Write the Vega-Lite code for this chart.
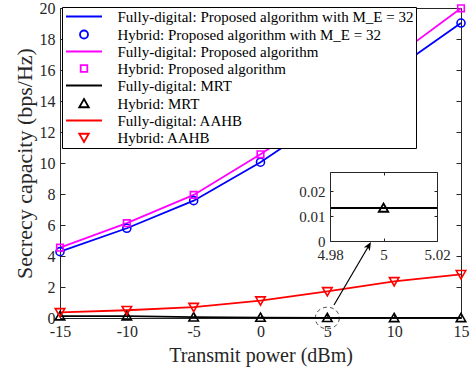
{
  "$schema": "https://vega.github.io/schema/vega-lite/v6.json",
  "width": 401,
  "height": 310,
  "autosize": "none",
  "padding": {"left": 60, "top": 8, "right": 11, "bottom": 55},
  "background": "white",
  "config": {
    "font": "Liberation Serif",
    "view": {"stroke": null},
    "axis": {
      "domainColor": "#262626", "tickColor": "#262626", "labelColor": "#262626", "titleColor": "#262626",
      "labelFont": "Liberation Serif", "titleFont": "Liberation Serif",
      "labelFontSize": 16, "titleFontSize": 20, "titleFontWeight": "normal",
      "grid": false, "tickSize": -5, "domainWidth": 1, "tickWidth": 1,
      "labelFlush": false, "labelOverlap": false
    },
    "legend": {
      "orient": "none", "legendX": 2, "legendY": -1,
      "padding": 2, "strokeColor": "black", "fillColor": "white",
      "symbolSize": 100, "symbolStrokeWidth": 1.8, "symbolOffset": 12.5, "labelOffset": 26,
      "labelFont": "Liberation Serif", "labelFontSize": 15, "labelColor": "black",
      "rowPadding": 1, "labelLimit": 400, "symbolFillColor": "transparent"
    }
  },
  "datasets": {
    "fd": [
      {"s": "Fully-digital: Proposed algorithm with M_E = 32", "p": -15, "c": 4.28},
      {"s": "Fully-digital: Proposed algorithm with M_E = 32", "p": -10, "c": 5.79},
      {"s": "Fully-digital: Proposed algorithm with M_E = 32", "p": -5, "c": 7.57},
      {"s": "Fully-digital: Proposed algorithm with M_E = 32", "p": 0, "c": 10.05},
      {"s": "Fully-digital: Proposed algorithm with M_E = 32", "p": 5, "c": 12.95},
      {"s": "Fully-digital: Proposed algorithm with M_E = 32", "p": 10, "c": 16.0},
      {"s": "Fully-digital: Proposed algorithm with M_E = 32", "p": 15, "c": 19.03},
      {"s": "Fully-digital: Proposed algorithm", "p": -15, "c": 4.54},
      {"s": "Fully-digital: Proposed algorithm", "p": -10, "c": 6.12},
      {"s": "Fully-digital: Proposed algorithm", "p": -5, "c": 7.94},
      {"s": "Fully-digital: Proposed algorithm", "p": 0, "c": 10.56},
      {"s": "Fully-digital: Proposed algorithm", "p": 5, "c": 13.4},
      {"s": "Fully-digital: Proposed algorithm", "p": 10, "c": 16.8},
      {"s": "Fully-digital: Proposed algorithm", "p": 15, "c": 19.98},
      {"s": "Fully-digital: MRT", "p": -15, "c": 0.12},
      {"s": "Fully-digital: MRT", "p": -10, "c": 0.12},
      {"s": "Fully-digital: MRT", "p": -5, "c": 0.05},
      {"s": "Fully-digital: MRT", "p": 0, "c": 0.03},
      {"s": "Fully-digital: MRT", "p": 5, "c": 0.0132},
      {"s": "Fully-digital: MRT", "p": 10, "c": 0.01},
      {"s": "Fully-digital: MRT", "p": 15, "c": 0.008},
      {"s": "Fully-digital: AAHB", "p": -15, "c": 0.36},
      {"s": "Fully-digital: AAHB", "p": -10, "c": 0.5},
      {"s": "Fully-digital: AAHB", "p": -5, "c": 0.7},
      {"s": "Fully-digital: AAHB", "p": 0, "c": 1.12},
      {"s": "Fully-digital: AAHB", "p": 5, "c": 1.72},
      {"s": "Fully-digital: AAHB", "p": 10, "c": 2.36},
      {"s": "Fully-digital: AAHB", "p": 15, "c": 2.82}
    ],
    "hy": [
      {"s": "Hybrid: Proposed algorithm with M_E = 32", "p": -15, "c": 4.28},
      {"s": "Hybrid: Proposed algorithm with M_E = 32", "p": -10, "c": 5.79},
      {"s": "Hybrid: Proposed algorithm with M_E = 32", "p": -5, "c": 7.57},
      {"s": "Hybrid: Proposed algorithm with M_E = 32", "p": 0, "c": 10.05},
      {"s": "Hybrid: Proposed algorithm with M_E = 32", "p": 5, "c": 12.95},
      {"s": "Hybrid: Proposed algorithm with M_E = 32", "p": 10, "c": 16.0},
      {"s": "Hybrid: Proposed algorithm with M_E = 32", "p": 15, "c": 19.03},
      {"s": "Hybrid: Proposed algorithm", "p": -15, "c": 4.54},
      {"s": "Hybrid: Proposed algorithm", "p": -10, "c": 6.12},
      {"s": "Hybrid: Proposed algorithm", "p": -5, "c": 7.94},
      {"s": "Hybrid: Proposed algorithm", "p": 0, "c": 10.56},
      {"s": "Hybrid: Proposed algorithm", "p": 5, "c": 13.4},
      {"s": "Hybrid: Proposed algorithm", "p": 10, "c": 16.8},
      {"s": "Hybrid: Proposed algorithm", "p": 15, "c": 19.98},
      {"s": "Hybrid: MRT", "p": -15, "c": 0.12},
      {"s": "Hybrid: MRT", "p": -10, "c": 0.12},
      {"s": "Hybrid: MRT", "p": -5, "c": 0.05},
      {"s": "Hybrid: MRT", "p": 0, "c": 0.03},
      {"s": "Hybrid: MRT", "p": 5, "c": 0.0132},
      {"s": "Hybrid: MRT", "p": 10, "c": 0.01},
      {"s": "Hybrid: MRT", "p": 15, "c": 0.008},
      {"s": "Hybrid: AAHB", "p": -15, "c": 0.36},
      {"s": "Hybrid: AAHB", "p": -10, "c": 0.5},
      {"s": "Hybrid: AAHB", "p": -5, "c": 0.7},
      {"s": "Hybrid: AAHB", "p": 0, "c": 1.12},
      {"s": "Hybrid: AAHB", "p": 5, "c": 1.72},
      {"s": "Hybrid: AAHB", "p": 10, "c": 2.36},
      {"s": "Hybrid: AAHB", "p": 15, "c": 2.82}
    ],
    "ellipse": [{"p": 5, "c": 0}],
    "arrow": [{"p": 5.5, "c": 0.84}, {"p": 8.08, "c": 4.63}],
    "arrowhead": [{"p": 8.08, "c": 4.63}],
    "frame": [{"x0": 4.98, "x1": 5.02, "y0": 0, "y1": 0.0276}],
    "zline": [{"ix": 4.98, "iy": 0.0132}, {"ix": 5.02, "iy": 0.0132}],
    "zpoint": [{"ix": 5, "iy": 0.0132}]
  },
  "layer": [
    {
      "layer": [
        {
          "data": {"name": "fd"},
          "mark": {"type": "line", "strokeWidth": 1.8},
          "encoding": {
            "x": {"field": "p", "type": "quantitative",
              "scale": {"domain": [-15, 15], "nice": false, "zero": false},
              "axis": {"orient": "bottom", "title": "Transmit power (dBm)", "values": [-15, -10, -5, 0, 5, 10, 15], "labelExpr": "datum.value + ''", "labelPadding": 10, "titlePadding": 6}},
            "y": {"field": "c", "type": "quantitative",
              "scale": {"domain": [0, 20], "nice": false},
              "axis": {"orient": "left", "title": "Secrecy capacity (bps/Hz)", "titleFontSize": 22, "values": [0, 2, 4, 6, 8, 10, 12, 14, 16, 18, 20], "labelPadding": 10, "titlePadding": 3}},
            "color": {"field": "s", "type": "nominal",
              "scale": {
                "domain": ["Fully-digital: Proposed algorithm with M_E = 32", "Hybrid: Proposed algorithm with M_E = 32", "Fully-digital: Proposed algorithm", "Hybrid: Proposed algorithm", "Fully-digital: MRT", "Hybrid: MRT", "Fully-digital: AAHB", "Hybrid: AAHB"],
                "range": ["#0000ff", "#0000ff", "#ff00ff", "#ff00ff", "#000000", "#000000", "#ff0000", "#ff0000"]},
              "legend": {"title": null}}
          }
        },
        {
          "data": {"name": "hy"},
          "mark": {"type": "point", "filled": false, "size": 100, "strokeWidth": 1.6, "opacity": 1},
          "encoding": {
            "x": {"field": "p", "type": "quantitative",
              "axis": {"orient": "top", "title": null, "labels": false, "values": [-15, -10, -5, 0, 5, 10, 15]}},
            "y": {"field": "c", "type": "quantitative",
              "axis": {"orient": "right", "title": null, "labels": false, "values": [0, 2, 4, 6, 8, 10, 12, 14, 16, 18, 20]}},
            "color": {"field": "s", "type": "nominal", "legend": {"title": null}},
            "shape": {"field": "s", "type": "nominal",
              "scale": {
                "domain": ["Fully-digital: Proposed algorithm with M_E = 32", "Hybrid: Proposed algorithm with M_E = 32", "Fully-digital: Proposed algorithm", "Hybrid: Proposed algorithm", "Fully-digital: MRT", "Hybrid: MRT", "Fully-digital: AAHB", "Hybrid: AAHB"],
                "range": [
                  "M-3.6,0H3.6",
                  "M0.8,0A0.8,0.8 0 1,1 -0.8,0A0.8,0.8 0 1,1 0.8,0Z",
                  "M-3.6,0H3.6",
                  "M-0.66,-0.66H0.66V0.66H-0.66Z",
                  "M-3.6,0H3.6",
                  "M0,-0.9L0.95,0.75L-0.95,0.75Z",
                  "M-3.6,0H3.6",
                  "M0,0.9L0.95,-0.75L-0.95,-0.75Z"
                ]},
              "legend": {"title": null}}
          }
        },
        {
          "data": {"name": "ellipse"},
          "mark": {"type": "point", "shape": "M1,0A1,0.9 0 1,1 -1,0A1,0.9 0 1,1 1,0Z", "size": 576, "filled": false, "stroke": "#000000", "strokeWidth": 1, "strokeDash": [4, 3]},
          "encoding": {
            "x": {"field": "p", "type": "quantitative", "axis": null},
            "y": {"field": "c", "type": "quantitative", "axis": null}
          }
        },
        {
          "data": {"name": "arrow"},
          "mark": {"type": "line", "color": "#000000", "strokeWidth": 1.2},
          "encoding": {
            "x": {"field": "p", "type": "quantitative", "axis": null},
            "y": {"field": "c", "type": "quantitative", "axis": null}
          }
        },
        {
          "data": {"name": "arrowhead"},
          "mark": {"type": "point", "shape": "M0,-1L0.7,0.7L0,0.25L-0.7,0.7Z", "size": 100, "filled": true, "color": "#000000", "angle": 30, "opacity": 1},
          "encoding": {
            "x": {"field": "p", "type": "quantitative", "axis": null},
            "y": {"field": "c", "type": "quantitative", "axis": null}
          }
        }
      ],
      "resolve": {"axis": {"x": "independent", "y": "independent"}}
    },
    {
      "layer": [
        {
          "data": {"name": "frame"},
          "mark": {"type": "rect", "fill": "white"},
          "encoding": {
            "x": {"field": "x0", "type": "quantitative",
              "scale": {"domain": [4.98, 5.02], "range": [270, 377], "nice": false, "zero": false},
              "axis": {"orient": "bottom", "offset": -77, "title": null, "values": [4.98, 5, 5.02], "labelExpr": "datum.value + ''", "labelFontSize": 15, "labelPadding": 9, "tickSize": -3, "zindex": 2}},
            "x2": {"field": "x1"},
            "y": {"field": "y0", "type": "quantitative",
              "scale": {"domain": [0, 0.0276], "range": [233, 164], "nice": false, "zero": false},
              "axis": {"orient": "left", "offset": -270, "title": null, "values": [0, 0.01, 0.02], "labelExpr": "datum.value + ''", "labelFontSize": 15, "labelPadding": 8, "tickSize": -3, "zindex": 2}},
            "y2": {"field": "y1"}
          }
        },
        {
          "data": {"name": "zline"},
          "mark": {"type": "line", "color": "#000000", "strokeWidth": 2},
          "encoding": {
            "x": {"field": "ix", "type": "quantitative",
              "axis": {"orient": "top", "offset": -164, "title": null, "labels": false, "values": [4.98, 5, 5.02], "tickSize": -3, "zindex": 2}},
            "y": {"field": "iy", "type": "quantitative",
              "axis": {"orient": "right", "offset": -24, "title": null, "labels": false, "values": [0, 0.01, 0.02], "tickSize": -3, "zindex": 2}}
          }
        },
        {
          "data": {"name": "zpoint"},
          "mark": {"type": "point", "shape": "M0,-0.9L0.95,0.75L-0.95,0.75Z", "size": 100, "filled": false, "stroke": "#000000", "strokeWidth": 1.8, "opacity": 1},
          "encoding": {
            "x": {"field": "ix", "type": "quantitative", "axis": null},
            "y": {"field": "iy", "type": "quantitative", "axis": null}
          }
        }
      ],
      "resolve": {"axis": {"x": "independent", "y": "independent"}}
    }
  ],
  "resolve": {
    "scale": {"x": "independent", "y": "independent"},
    "axis": {"x": "independent", "y": "independent"}
  }
}
